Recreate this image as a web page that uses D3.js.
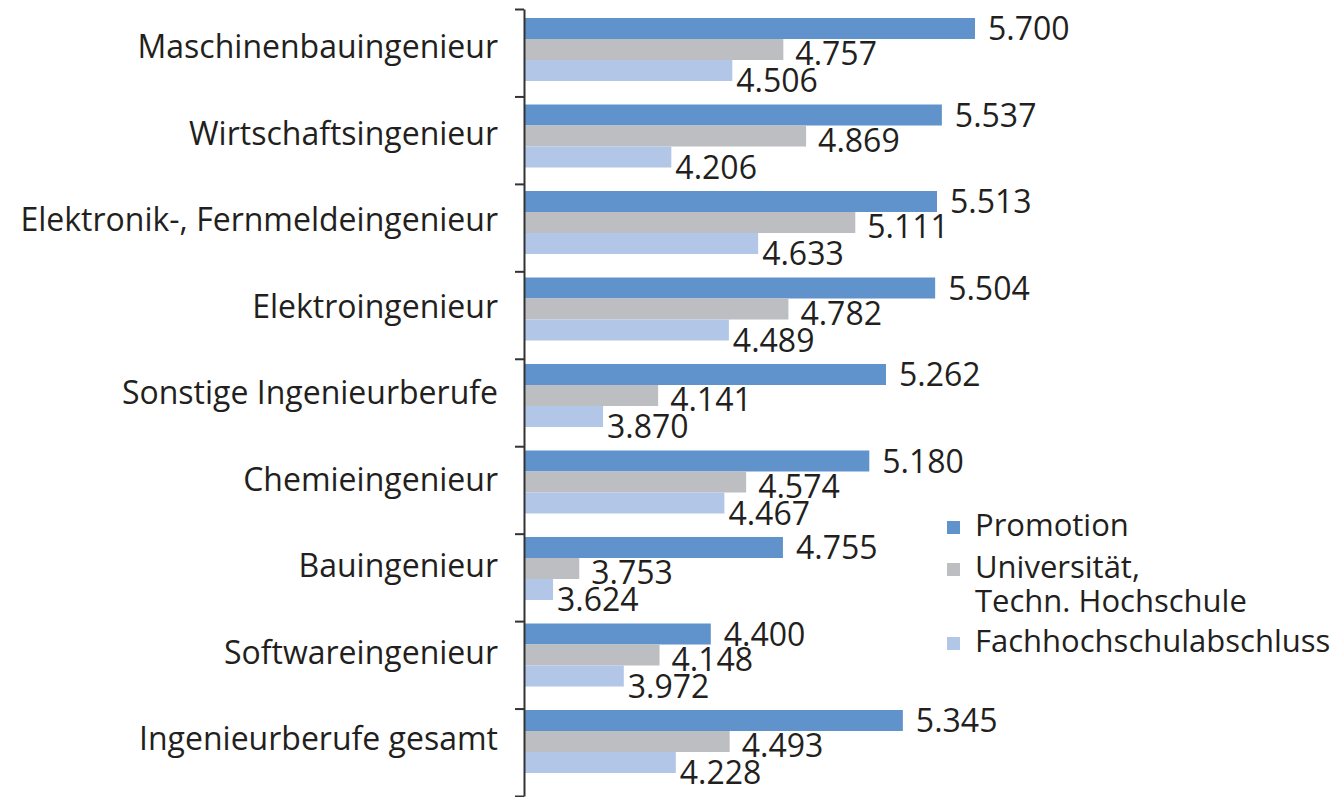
<!DOCTYPE html>
<html>
<head>
<meta charset="utf-8">
<script src="https://cdn.jsdelivr.net/npm/d3@7"></script>
<style>
  html, body { margin: 0; padding: 0; background: #ffffff; }
  svg { display: block; }
  text { font-family: "Open Sans", "Noto Sans", sans-serif; fill: #231f20; }
</style>
</head>
<body>
<svg id="chart" width="1340" height="797"></svg>
<script>
const categories = [
  "Maschinenbauingenieur",
  "Wirtschaftsingenieur",
  "Elektronik-, Fernmeldeingenieur",
  "Elektroingenieur",
  "Sonstige Ingenieurberufe",
  "Chemieingenieur",
  "Bauingenieur",
  "Softwareingenieur",
  "Ingenieurberufe gesamt"
];
const seriesNames = ["Promotion", "Universität, Techn. Hochschule", "Fachhochschulabschluss"];
const legendLines = [["Promotion"], ["Universität,", "Techn. Hochschule"], ["Fachhochschulabschluss"]];
const promotion = [5.700, 5.537, 5.513, 5.504, 5.262, 5.180, 4.755, 4.400, 5.345];
const universitaet = [4.757, 4.869, 5.111, 4.782, 4.141, 4.574, 3.753, 4.148, 4.493];
const fachhochschule = [4.506, 4.206, 4.633, 4.489, 3.870, 4.467, 3.624, 3.972, 4.228];
const labels = [
  ["5.700","5.537","5.513","5.504","5.262","5.180","4.755","4.400","5.345"],
  ["4.757","4.869","5.111","4.782","4.141","4.574","3.753","4.148","4.493"],
  ["4.506","4.206","4.633","4.489","3.870","4.467","3.624","3.972","4.228"]
];
const axisMin = 3.486;

const colors = ["#6092cc", "#bdbec1", "#b2c6e7"];
const seriesValues = [promotion, universitaet, fachhochschule];

const svg = d3.select("#chart");

const x = d3.scaleLinear().domain([axisMin, 5.7]).range([525, 975]);
const yGroup = d3.scaleBand().domain(categories).range([18, 18 + 86.5 * categories.length]);
const ySub = d3.scaleBand().domain(seriesNames).range([0, 63]);
const yTicks = d3.scaleLinear().domain([0, categories.length]).range([9, 796]);

// bars
seriesNames.forEach((s, si) => {
  const g = svg.append("g");
  g.selectAll("rect").data(categories).join("rect")
    .attr("x", x(axisMin))
    .attr("y", c => yGroup(c) + ySub(s))
    .attr("width", (c, i) => x(seriesValues[si][i]) - x(axisMin))
    .attr("height", ySub.bandwidth())
    .attr("fill", colors[si]);
});

// value labels
const labelShift = [0, 4, 10];
const labelGap = [13, 12, 4];
seriesNames.forEach((s, si) => {
  svg.append("g").selectAll("text").data(categories).join("text")
    .attr("x", (c, i) => x(seriesValues[si][i]) + labelGap[si])
    .attr("y", (c) => yGroup(c) + ySub(s) + ySub.bandwidth() / 2 + labelShift[si] + 11.5)
    .attr("font-size", 32)
    .text((c, i) => labels[si][i]);
});

// axis
const axis = d3.axisLeft(yTicks).tickValues(d3.range(categories.length + 1)).tickFormat("").tickSize(9).tickSizeOuter(0);
const ag = svg.append("g").attr("transform", "translate(524,0)").call(axis);
ag.selectAll("path, line").attr("stroke", "#333333").attr("stroke-width", 2);

// category labels
svg.append("g").selectAll("text").data(categories).join("text")
  .attr("x", 498)
  .attr("y", c => yGroup(c) + 40)
  .attr("text-anchor", "end")
  .attr("font-size", 32)
  .text(c => c);

// legend
const legendBase = [536, 578, 652];
const lg = svg.append("g");
legendLines.forEach((lines, i) => {
  lg.append("rect")
    .attr("x", 947).attr("y", legendBase[i] - 15)
    .attr("width", 13).attr("height", 13)
    .attr("fill", colors[i]);
  lines.forEach((t, j) => {
    lg.append("text")
      .attr("x", 975).attr("y", legendBase[i] + j * 34)
      .attr("font-size", 31)
      .text(t);
  });
});
</script>
</body>
</html>
